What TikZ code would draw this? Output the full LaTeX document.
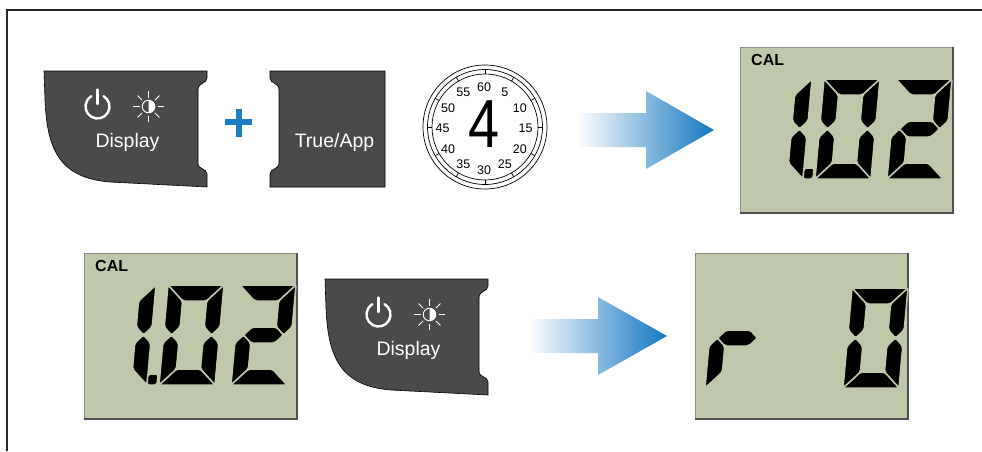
\documentclass[tikz,border=0pt]{standalone}
\usepackage{fontspec}
\setmainfont{Liberation Sans}
\definecolor{btngray}{RGB}{74,74,74}
\definecolor{lcdbg}{RGB}{192,200,171}
\definecolor{lcdrim}{RGB}{140,140,140}
\definecolor{lcdshadow}{RGB}{80,80,80}
\definecolor{plusblue}{RGB}{27,123,195}
\definecolor{arrowblue}{RGB}{20,118,192}
\definecolor{framegray}{RGB}{38,38,38}

% seven-segment cell: width 56, height 100, stroke 16 (local units, y up)
\newcommand\LsegA{\filldraw[seg] (0,100) -- (56,100) -- (40,84) -- (16,84) -- cycle;}
\newcommand\LsegD{\filldraw[seg] (0,0) -- (56,0) -- (40,16) -- (16,16) -- cycle;}
\newcommand\LsegF{\filldraw[seg] (0,100) -- (16,84) -- (16,58) -- (8,50) -- (0,58) -- cycle;}
\newcommand\LsegE{\filldraw[seg] (0,0) -- (16,16) -- (16,42) -- (8,50) -- (0,42) -- cycle;}
\newcommand\LsegB{\filldraw[seg] (56,100) -- (40,84) -- (40,58) -- (48,50) -- (56,58) -- cycle;}
\newcommand\LsegC{\filldraw[seg] (56,0) -- (40,16) -- (40,42) -- (48,50) -- (56,42) -- cycle;}
\newcommand\LsegG{\filldraw[seg] (8,50) -- (16,58) -- (40,58) -- (48,50) -- (40,42) -- (16,42) -- cycle;}
\newcommand\LsegOneUp{\filldraw[seg] (16,100) -- (0,84) -- (0,58) -- (8,50) -- (16,58) -- cycle;}
\newcommand\LsegOneLo{\filldraw[seg] (16,0) -- (0,16) -- (0,42) -- (8,50) -- (16,42) -- cycle;}
\newcommand\LsegDot{\filldraw[seg] (16,0) -- (26,0) -- (26,11) -- (16,11) -- cycle;}

% #1 x, #2 y of the cell's lower left corner, #3 list of lit segments
\newcommand\LcdDigit[3]{%
  \begin{scope}[shift={({#1},{#2})},yscale=-1,xslant=-0.09]
    \foreach \s in {#3} {\csname Lseg\s\endcsname}
  \end{scope}}

% display panel: #1 name, #2 x, #3 y of the upper left corner
\newcommand\LcdPanel[3]{%
  \node[lcdbox,anchor=north west] (#1) at (#2,#3) {};
  \draw[lcdedge] (#1.north east) -- (#1.south east) -- (#1.south west);}

% panel showing CAL 1.02
\newcommand\CalReading[3]{%
  \LcdPanel{#1}{#2}{#3}
  \node[callabel] (#1-cal) at ({#2+11},{#3+18.5}) {CAL};
  \LcdDigit{#2+47}{#3+132}{OneUp,OneLo,Dot}
  \LcdDigit{#2+75}{#3+132}{A,B,C,D,E,F}
  \LcdDigit{#2+147}{#3+132}{A,B,G,E,D}}

% the Display / backlight key
\newcommand\DisplayKey[1]{%
  \filldraw[btn] (44,71) -- (207,71) -- (207,78)
    .. controls (207,84) and (198,82) .. (198,90) -- (198,163)
    .. controls (198,170) and (207,168) .. (207,174) -- (207,187)
    -- (110,182) .. controls (60,178) and (47,150) .. (45,100) -- cycle;
  \draw[iconline] (97.5,106.5) ++(-60:12) arc[start angle=-60,end angle=240,radius=12];
  \draw[iconline] (97.5,104) -- (97.5,89.5);
  \fill[white] (148.5,100.2) arc[start angle=-90,end angle=90,radius=6.3] -- cycle;
  \draw[ray] (148.5,106.5) circle[radius=6.3];
  \foreach \a in {0,45,...,315} {\draw[ray] (148.5,106.5) ++(\a:9) -- ++(\a:6.5);}
  \node[btntext] (#1-label) at (127.5,147) {Display};}

\tikzset{
  btn/.style={fill=btngray,draw=black,line width=0.6pt},
  btntext/.style={text=white,font=\fontsize{19.5}{20}\selectfont,inner sep=0pt,anchor=base},
  lcdbox/.style={fill=lcdbg,draw=lcdrim,line width=0.8pt,minimum width=213pt,
    minimum height=166pt,inner sep=0pt,outer sep=0pt},
  lcdedge/.style={draw=lcdshadow,line width=1.8pt},
  seg/.style={fill=black,draw=lcdbg,line width=1.5pt,rounded corners=2pt},
  iconline/.style={draw=white,line width=2.4pt,line cap=round},
  ray/.style={draw=white,line width=0.9pt},
  dial/.style={draw=black,line width=0.7pt},
  dialnum/.style={font=\fontsize{12.5}{12.5}\selectfont,inner sep=0pt},
  callabel/.style={font=\bfseries\fontsize{16}{16}\selectfont,inner sep=0pt,anchor=base west},
  plus/.style={draw=plusblue,line width=6pt},
  flow/.style={left color=white,right color=arrowblue},
}

\begin{document}
\begin{tikzpicture}[x=1pt,y=-1pt]
\useasboundingbox (0,0) rectangle (982,451);

% outer frame (top and left edges)
\draw[framegray,line width=1.3pt] (7,451) -- (7,10) -- (982,10);

% ---- first row: Display + True/App, hold, result ----
\DisplayKey{keyA}

\draw[plus] (225,122) -- (252,122);
\draw[plus] (238.5,108.5) -- (238.5,136.5);

\filldraw[btn] (270,71) -- (385,71) -- (385,187) -- (270,187) -- (270,174)
  .. controls (270,168) and (279,170) .. (279,163) -- (279,90)
  .. controls (279,82) and (270,84) .. (270,78) -- cycle;
\node[btntext] (keyB-label) at (334.5,147) {True/App};

% hold timer
\coordinate (dialc) at (485,127);
\coordinate (dialn) at (484,128.5);
\draw[dial] (dialc) circle[radius=62];
\draw[dial] (dialc) circle[radius=57.5];
\draw[dial] (dialc) circle[radius=53];
\foreach \a in {0,30,...,330} {\draw[dial] (dialc) ++(\a:53) -- ++(\a:4.5);}
\foreach \n in {5,10,...,60} {\node[dialnum] (dn\n) at ([shift={({-90+6*\n}:41.5)}]dialn) {\n};}
\node[font=\fontsize{68}{68}\selectfont,xscale=0.82,inner sep=0pt] (secs) at (484,124) {4};

\shade[flow] (577,113) -- (646,113) -- (646,91) -- (714,130) -- (646,169)
  -- (646,147) -- (577,147) -- cycle;

\CalReading{lcdA}{740}{47}

% ---- second row: Display, result ----
\CalReading{lcdB}{84}{253}

\begin{scope}[shift={(281,208)}]
  \DisplayKey{keyC}
\end{scope}

\shade[flow] (528,319) -- (598,319) -- (598,297) -- (667,336) -- (598,375)
  -- (598,353) -- (528,353) -- cycle;

\LcdPanel{lcdC}{695}{253}
\LcdDigit{705}{388}{E,G}
\LcdDigit{843}{388}{A,B,C,D,E,F}

\end{tikzpicture}
\end{document}
